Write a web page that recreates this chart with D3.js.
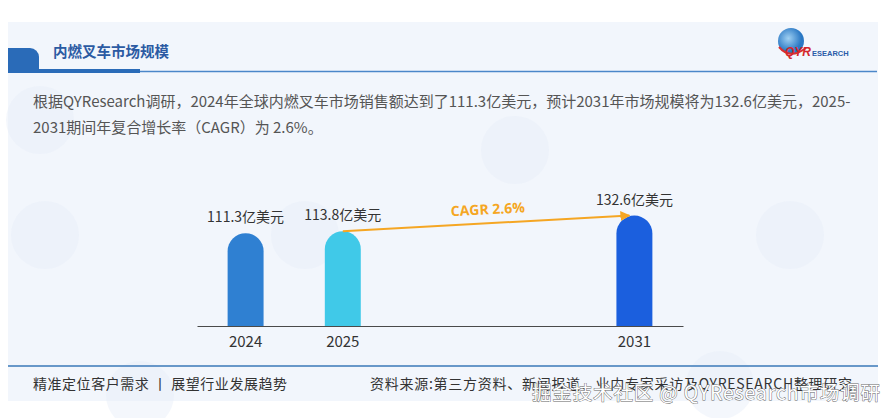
<!DOCTYPE html>
<html><head><meta charset="utf-8">
<script src="https://cdn.jsdelivr.net/npm/d3@7"></script>
<style>
html,body{margin:0;padding:0;background:#fff;}
svg{display:block;font-family:"Noto Sans CJK SC","Noto Sans",sans-serif;}
</style></head>
<body><svg id="c" width="893" height="418"></svg>
<script>
// ---- data ----
const categories = ["2024", "2025", "gap1", "gap2", "2031"];
const barYears = ["2024", "2025", "2031"];
const barValues = [111.3, 113.8, 132.6];
const valueLabels = ["111.3亿美元", "113.8亿美元", "132.6亿美元"];
const barColors = ["#2f80d2", "#40c9e8", "#1b5fde"];
const cagrLabel = "CAGR 2.6%";
const titleText = "内燃叉车市场规模";
const descLines = [
  "根据QYResearch调研，2024年全球内燃叉车市场销售额达到了111.3亿美元，预计2031年市场规模将为132.6亿美元，2025-",
  "2031期间年复合增长率（CAGR）为 2.6%。"
];
const footerLeft = "精准定位客户需求 丨 展望行业发展趋势";
const footerRight = "资料来源:第三方资料、新闻报道、业内专家采访及QYRESEARCH整理研究";
const watermark = "掘金技术社区 @ QYResearch市场调研";

const svg = d3.select("#c");

// card background
svg.append("rect").attr("x", 8).attr("y", 22).attr("width", 870).attr("height", 379).attr("fill", "#f2f6fc");

// faint background watermark circles
const wm = [[45,235],[305,235],[515,150],[790,235],[140,395],[720,385],[40,120]];
svg.append("g").selectAll("circle").data(wm).join("circle")
  .attr("cx", d => d[0]).attr("cy", d => d[1]).attr("r", 34)
  .attr("fill", "#e6eef8").attr("opacity", 0.45);

// header
svg.append("path").attr("d", "M8,48 L30,48 A9,9 0 0 1 39,57 L39,70 L8,70 Z").attr("fill", "#2a6bb8");
svg.append("rect").attr("x", 8).attr("y", 69).attr("width", 132).attr("height", 4).attr("fill", "#2a6bb8");
svg.append("line").attr("x1", 140).attr("x2", 877).attr("y1", 71.5).attr("y2", 71.5).attr("stroke", "#4b87c9").attr("stroke-width", 1.3);
svg.append("text").attr("x", 53).attr("y", 57).attr("font-size", 14.5).attr("font-weight", "bold").attr("fill", "#2c5ba3").text(titleText);

// logo
const logo = svg.append("g");
const grad = svg.append("defs").append("radialGradient").attr("id", "gl").attr("cx", "40%").attr("cy", "40%");
grad.append("stop").attr("offset", "0%").attr("stop-color", "#9fd0f2");
grad.append("stop").attr("offset", "100%").attr("stop-color", "#2a78c4");
logo.append("circle").attr("cx", 791).attr("cy", 41).attr("r", 13).attr("fill", "url(#gl)");
logo.append("path").attr("d", "M779,47 Q790,60 806,48").attr("fill", "none").attr("stroke", "#d9302f").attr("stroke-width", 2);
logo.append("text").attr("x", 785).attr("y", 56).attr("font-family", "Liberation Sans").attr("font-weight", "bold").attr("font-style", "italic").attr("font-size", 12).attr("fill", "#d4262c").text("QYR");
logo.append("text").attr("x", 812).attr("y", 55.5).attr("font-family", "Liberation Sans").attr("font-weight", "bold").attr("font-size", 7.5).attr("fill", "#2a5ca8").text("ESEARCH");

// description
svg.append("g").selectAll("text").data(descLines).join("text")
  .attr("x", 33).attr("y", (d, i) => 107 + i * 26)
  .attr("font-size", 15).attr("fill", "#555").text(d => d);

// scales
const x = d3.scaleBand().domain(categories).range([197, 683]).paddingInner(0.63).paddingOuter(0.315);
const y = d3.scaleLinear().domain([0, 150]).range([326, 201]);

// bars with rounded tops
const bw = x.bandwidth(), r = bw / 2;
svg.append("g").selectAll("path").data(barYears).join("path")
  .attr("d", (d, i) => {
    const x0 = x(d), top = y(barValues[i]), base = y(0);
    return `M${x0},${base} L${x0},${top + r} A${r},${r} 0 0 1 ${x0 + bw},${top + r} L${x0 + bw},${base} Z`;
  })
  .attr("fill", (d, i) => barColors[i]);

// value labels
svg.append("g").selectAll("text").data(barYears).join("text")
  .attr("x", d => x(d) + bw / 2).attr("y", (d, i) => y(barValues[i]) - 11)
  .attr("text-anchor", "middle").attr("font-size", 14).attr("fill", "#333")
  .text((d, i) => valueLabels[i]);

// axis
const ax = svg.append("g").attr("transform", `translate(0,${y(0)})`)
  .call(d3.axisBottom(x).tickSize(0).tickSizeOuter(0).tickPadding(10).tickFormat(d => barYears.includes(d) ? d : ""));
ax.select(".domain").attr("stroke", "#4a4a4a").attr("stroke-width", 1.2);
ax.selectAll("text").attr("font-size", 15).attr("fill", "#333").attr("font-family", "Noto Sans CJK SC, Noto Sans, sans-serif");

// CAGR arrow
const defs = svg.select("defs");
defs.append("marker").attr("id", "arr").attr("viewBox", "0 0 10 10").attr("refX", 9).attr("refY", 5)
  .attr("markerWidth", 5).attr("markerHeight", 5).attr("orient", "auto")
  .append("path").attr("d", "M0,0 L10,5 L0,10 Z").attr("fill", "#f5a623");
const ax1 = x("2025") + bw / 2, ay1 = y(barValues[1]);
const ax2 = x("2031") + bw / 2 - 5, ay2 = y(barValues[2]);
svg.append("line").attr("x1", ax1).attr("y1", ay1).attr("x2", ax2).attr("y2", ay2)
  .attr("stroke", "#f5a623").attr("stroke-width", 2).attr("marker-end", "url(#arr)");
const ang = Math.atan2(ay2 - ay1, ax2 - ax1) * 180 / Math.PI;
const lx = ax1 + (ax2 - ax1) * 0.5, ly = ay1 + (ay2 - ay1) * 0.5 - 10;
svg.append("text").attr("transform", `translate(${lx + 2},${ly + 1}) rotate(${ang})`)
  .attr("text-anchor", "middle").attr("font-size", 14).attr("font-weight", "bold")
  .attr("font-family", "Open Sans, Noto Sans, sans-serif").attr("fill", "#f5a623").text(cagrLabel);

// footer
svg.append("line").attr("x1", 8).attr("x2", 878).attr("y1", 366).attr("y2", 366).attr("stroke", "#3a78b8").attr("stroke-width", 1.3);
svg.append("text").attr("x", 33).attr("y", 389).attr("font-size", 14).attr("fill", "#333")
  .attr("textLength", 254).text(footerLeft);
svg.append("text").attr("x", 852).attr("y", 389).attr("text-anchor", "end").attr("font-size", 14).attr("fill", "#333")
  .attr("textLength", 482).text(footerRight);

// overlay watermark text
svg.append("text").attr("x", 880).attr("y", 400).attr("text-anchor", "end").attr("font-size", 19.5)
  .attr("fill", "#fff").attr("stroke", "#666").attr("stroke-width", 0.9).attr("paint-order", "stroke")
  .attr("textLength", 348).text(watermark);
</script></body></html>
